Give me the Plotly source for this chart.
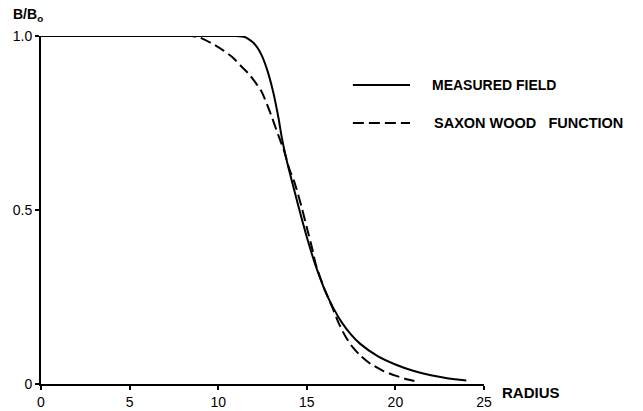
import plotly.graph_objects as go

# Measured field B/B0 vs radius
measured_r = [0, 5, 10, 11.0, 11.5, 12.0, 12.4, 12.75, 13.1, 13.4, 13.6, 13.9, 14.3, 14.7,
              15.1, 15.5, 16.0, 16.5, 17.0, 17.5, 18.0, 19.0, 20.0, 21.0, 22.0, 23.0, 24.0]
measured_b = [1.0, 1.0, 1.0, 1.0, 0.997, 0.98, 0.95, 0.905, 0.84, 0.765, 0.705, 0.635, 0.555, 0.478,
              0.405, 0.34, 0.272, 0.218, 0.175, 0.142, 0.116, 0.08, 0.056, 0.038, 0.025, 0.016, 0.01]

# Saxon-Woods function
saxon_r = [0, 5, 8.5, 9.0, 9.7, 10.3, 10.85, 11.3, 11.8, 12.45, 12.92, 13.39, 13.75, 14.0, 14.3,
           14.7, 15.0, 15.3, 15.5, 16.0, 16.4, 16.8, 17.2, 17.6, 18.0, 18.6, 19.3, 20.0, 20.7, 21.3]
saxon_b = [1.0, 1.0, 1.0, 0.995, 0.977, 0.958, 0.937, 0.913, 0.887, 0.84, 0.782, 0.715, 0.665, 0.62, 0.58,
           0.51, 0.45, 0.39, 0.345, 0.272, 0.225, 0.175, 0.135, 0.105, 0.083, 0.058, 0.038, 0.024, 0.013, 0.006]

x_ticks = [0, 5, 10, 15, 20, 25]
x_tick_text = ["0", "5", "10", "15", "20", "25"]
y_ticks = [0, 0.5, 1.0]
y_tick_text = ["0", "0.5", "1.0"]

series_names = ["MEASURED FIELD", "SAXON\u00a0WOOD\u00a0\u00a0\u00a0FUNCTION"]

FONT = "Liberation Sans"

fig = go.Figure()
fig.add_trace(go.Scatter(x=measured_r, y=measured_b, mode="lines", name=series_names[0],
                         line=dict(color="black", width=2, shape="spline", smoothing=0.6),
                         cliponaxis=False, showlegend=False))
fig.add_trace(go.Scatter(x=saxon_r, y=saxon_b, mode="lines", name=series_names[1],
                         line=dict(color="black", width=2, dash="11px,5px", shape="spline", smoothing=0.6),
                         cliponaxis=False, showlegend=False))

axis_common = dict(showgrid=False, zeroline=False, showline=True, linecolor="black", linewidth=2,
                   ticks="outside", ticklen=4, tickwidth=1.5, tickcolor="black", automargin=False)

fig.update_layout(
    width=643, height=411,
    margin=dict(l=41, r=159, t=36, b=27, autoexpand=False),
    paper_bgcolor="white", plot_bgcolor="white",
    xaxis=dict(range=[0, 25], tickvals=x_ticks, ticktext=x_tick_text,
               tickfont=dict(family=FONT, size=14, color="black"), **axis_common),
    yaxis=dict(range=[0, 1.0], tickvals=y_ticks, ticktext=y_tick_text,
               tickfont=dict(family=FONT, size=14, color="black"), **axis_common),
    xaxis2=dict(overlaying="x", matches="x", range=[0, 25], tickvals=x_ticks, showticklabels=False,
                showgrid=False, zeroline=False, showline=False, ticks="inside", ticklen=4,
                tickwidth=1.5, tickcolor="black", anchor="y", automargin=False),
    yaxis2=dict(overlaying="y", matches="y", range=[0, 1.0], tickvals=y_ticks, showticklabels=False,
                showgrid=False, zeroline=False, showline=False, ticks="inside", ticklen=3,
                tickwidth=1.5, tickcolor="black", anchor="x", automargin=False),
    showlegend=False,
)

# legend drawn as line samples + labels
fig.add_shape(type="line", xref="paper", yref="paper", x0=0.704, x1=0.833, y0=0.859, y1=0.859,
              line=dict(color="black", width=2))
fig.add_shape(type="line", xref="paper", yref="paper", x0=0.704, x1=0.833, y0=0.75, y1=0.75,
              line=dict(color="black", width=2, dash="11px,5px"))
fig.add_annotation(xref="paper", yref="paper", x=0.878, y=0.859, text=series_names[0],
                   showarrow=False, xanchor="left", yanchor="middle",
                   font=dict(family=FONT, size=14, color="black", weight="bold"))
fig.add_annotation(xref="paper", yref="paper", x=0.883, y=0.75, text=series_names[1],
                   showarrow=False, xanchor="left", yanchor="middle",
                   font=dict(family=FONT, size=14.5, color="black", weight="bold"))

# axis titles
fig.add_annotation(xref="paper", yref="paper", x=-0.068, y=1.06, text="B/B<sub>o</sub>",
                   showarrow=False, xanchor="left", yanchor="middle",
                   font=dict(family=FONT, size=14, color="black", weight="bold"))
fig.add_annotation(xref="paper", yref="paper", x=1.036, y=-0.025, text="RADIUS",
                   showarrow=False, xanchor="left", yanchor="middle",
                   font=dict(family=FONT, size=15, color="black", weight="bold"))

fig.write_html(
    "out.html",
    config={"displayModeBar": False},
    post_script="document.body.style.margin='0';document.body.style.overflow='hidden';",
)
